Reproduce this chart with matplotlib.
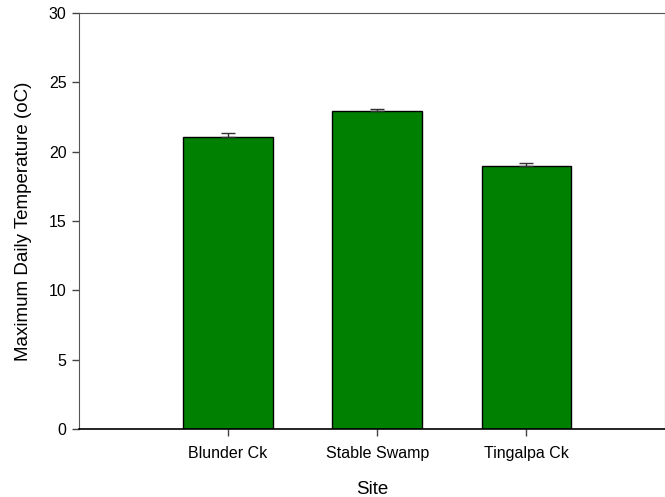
import matplotlib
matplotlib.use("Agg")
import matplotlib.pyplot as plt

sites = ["Blunder Ck", "Stable Swamp", "Tingalpa Ck"]
max_temp = [21.05, 22.93, 18.97]
sem = [0.3, 0.15, 0.22]

plt.rcParams['font.family'] = ['Liberation Sans', 'DejaVu Sans']

fig = plt.figure(figsize=(6.65, 4.97), dpi=100)
ax = fig.add_axes([79/665, 1 - 429/497, (665 - 79)/665, (429 - 13)/497])

x = [1, 2, 3]
ax.bar(x, max_temp, width=0.6, color='#008000', edgecolor='black', linewidth=1.0, zorder=2)
ax.errorbar(x, max_temp, yerr=[[0, 0, 0], sem], fmt='none', ecolor='#333333',
            elinewidth=1.0, capsize=5, capthick=1.0, zorder=3)

ax.set_xlim(0, 3.93)
ax.set_ylim(0, 30)
ax.set_yticks([0, 5, 10, 15, 20, 25, 30])
ax.set_xticks(x)
ax.set_xticklabels(sites)
ax.tick_params(axis='both', direction='out', length=5, width=1, colors='#444444', labelcolor='black', labelsize=11.5)
ax.tick_params(axis='x', pad=7)
ax.tick_params(axis='y', pad=4)
for s in ['left', 'top', 'right']:
    ax.spines[s].set_color('#555555')
ax.spines['bottom'].set_color('black')
ax.spines['bottom'].set_linewidth(1.2)
ax.set_xlabel('Site', fontsize=13.5, labelpad=15)
ax.set_ylabel('Maximum Daily Temperature (oC)', fontsize=13.5, labelpad=12)

fig.savefig('out.png', dpi=100)
